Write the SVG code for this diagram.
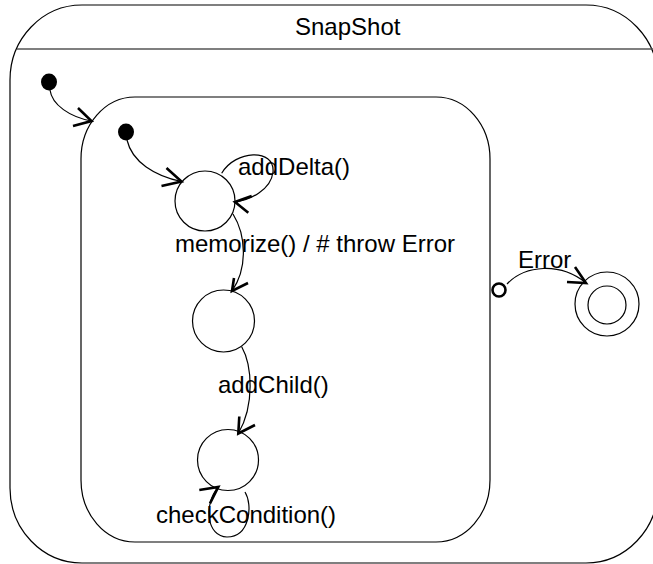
<svg xmlns="http://www.w3.org/2000/svg" width="653" height="564" viewBox="0 0 653 564">
<style>
.box{fill:none;stroke:#000;stroke-width:1.2}
.st{fill:#fff;stroke:#000;stroke-width:1.2}
.ln{fill:none;stroke:#000;stroke-width:1.2}
.hd{fill:none;stroke:#000;stroke-width:2.6;stroke-linejoin:miter}
.dot{fill:#000}
text{font-family:"Liberation Sans",Arial,sans-serif;font-size:24px;fill:#000}
</style>
<rect width="653" height="564" fill="#fff"/>
<g id="SnapShot">
<rect class="box" x="10" y="5" width="648" height="558" rx="72" ry="75"/>
<line x1="17" y1="49" x2="653" y2="49" stroke="#555" stroke-width="1.5"/>
<text x="295" y="35">SnapShot</text>
</g>
<g id="outerInitial"><ellipse class="dot" cx="49" cy="82" rx="8" ry="8.5"/></g>
<g id="composite"><rect class="box" x="81" y="97" width="409" height="445" rx="54" ry="62"/></g>
<g id="innerInitial"><ellipse class="dot" cx="126" cy="132" rx="8" ry="8.5"/></g>
<g id="state1"><circle class="st" cx="205" cy="201" r="30"/></g>
<g id="state2"><circle class="st" cx="223.5" cy="321" r="31"/></g>
<g id="state3"><circle class="st" cx="228" cy="460" r="30.5"/></g>
<g id="exitPoint"><circle cx="499" cy="290" r="6.5" fill="#fff" stroke="#000" stroke-width="2.6"/></g>
<g id="final"><circle class="st" cx="607" cy="304" r="32"/><circle class="st" cx="607" cy="305" r="19"/></g>
<g id="connectors">
<path class="ln" d="M50 90 C52 105 70 117 91.5 121"/>
<polyline class="hd" points="78,108 91.5,121 73,126"/>
<path class="ln" d="M127 140 C132 162 155 176 181.5 181.5"/>
<polyline class="hd" points="166.5,168 181.5,181.5 161.5,186"/>
<path class="ln" d="M221.7 173.3 C235 150 275 148 273 172 C271 190 250 200 235 202"/>
<polyline class="hd" points="251.7,196 235,202 248.3,212.7"/>
<path class="ln" d="M233 214 C246 235 248 268 232 291"/>
<polyline class="hd" points="248,283 232,291 234,278"/>
<path class="ln" d="M241.7 346.7 C252 365 255 405 238.3 433.5"/>
<polyline class="hd" points="255,425 238.3,433.5 239.3,416.5"/>
<path class="ln" d="M245 492 C253 505 250 537 227 537 C207 537 203 505 218.3 487"/>
<polyline class="hd" points="199.3,490 218.3,487 210,503.3"/>
<path class="ln" d="M507 284 C525 265 560 262 586 283"/>
<polyline class="hd" points="575,267 586,283 567,282"/>
</g>
<g id="labels">
<text x="238" y="175">addDelta()</text>
<text x="175" y="252">memorize() / # throw Error</text>
<text x="518" y="268">Error</text>
<text x="218" y="393">addChild()</text>
<text x="156" y="523">checkCondition()</text>
</g>
</svg>
